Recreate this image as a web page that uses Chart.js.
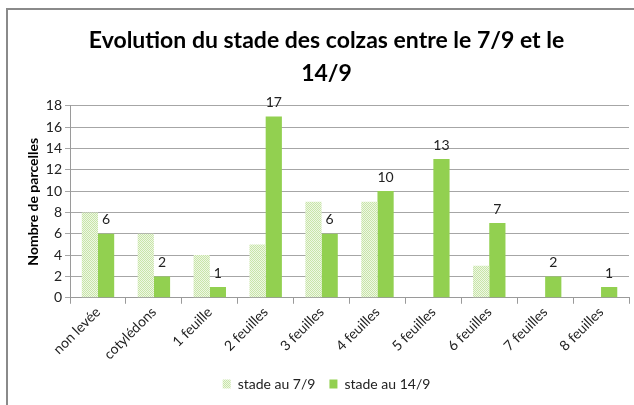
<!DOCTYPE html>
<html>
<head>
<meta charset="utf-8">
<script src="https://cdn.jsdelivr.net/npm/chart.js@4/dist/chart.umd.min.js"></script>
<style>
  html, body { margin: 0; padding: 0; background: #fff; }
  #wrap { position: relative; width: 634px; height: 405px; }
  #frame { position: absolute; left: 6px; top: 8px; right: -4px; bottom: -4px;
           border-left: 2px solid #8a8a8a; border-top: 2px solid #8a8a8a; }
  canvas { position: absolute; left: 0; top: 0; }
</style>
</head>
<body>
<div id="wrap">
  <div id="frame"></div>
  <canvas id="chart" width="634" height="405"></canvas>
</div>
<script>
const categories = ["non levée", "cotylédons", "1 feuille", "2 feuilles", "3 feuilles",
                    "4 feuilles", "5 feuilles", "6 feuilles", "7 feuilles", "8 feuilles"];
const stade79 = [8, 6, 4, 5, 9, 9, 0, 3, 0, 0];
const stade149 = [6, 2, 1, 17, 6, 10, 13, 7, 2, 1];
const yTicks = [0, 2, 4, 6, 8, 10, 12, 14, 16, 18];

// dotted light green fill like the excel pattern
const makePattern = () => {
    const p = document.createElement("canvas");
    p.width = 2; p.height = 2;
    const c = p.getContext("2d");
    c.fillStyle = "#eef7e4";
    c.fillRect(0, 0, 2, 2);
    c.fillStyle = "#c8e5a8";
    c.fillRect(0, 0, 1, 1);
    c.fillRect(1, 1, 1, 1);
    return c.createPattern(p, "repeat");
};
const ctx = document.getElementById("chart").getContext("2d");
const lightFill = makePattern();
const txt = "Lato, 'Open Sans', sans-serif";

// values above the 14/9 bars
const valueLabels = {
    id: "valueLabels",
    afterDatasetsDraw(chart) {
        const c = chart.ctx;
        const meta = chart.getDatasetMeta(1);
        c.save();
        c.font = "14px " + txt;
        c.fillStyle = "#222";
        c.textAlign = "center";
        c.textBaseline = "middle";
        meta.data.forEach((bar, i) => {
            c.fillText(String(stade149[i]), bar.x, bar.y - 14);
        });
        c.restore();
    }
};

new Chart(ctx, {
    type: "bar",
    data: {
        labels: categories,
        datasets: [
            { label: "stade au 7/9", data: stade79, backgroundColor: lightFill,
              borderWidth: 0, barPercentage: 1, categoryPercentage: 0.58 },
            { label: "stade au 14/9", data: stade149, backgroundColor: "#92d050",
              borderWidth: 0, barPercentage: 1, categoryPercentage: 0.58 }
        ]
    },
    options: {
        responsive: false,
        animation: false,
        layout: { padding: { left: 24, right: 5, top: 0, bottom: 4 } },
        plugins: {
            title: {
                display: true,
                text: ["Evolution du stade des colzas entre le 7/9 et le", "14/9"],
                font: { family: txt, size: 23, weight: "bold", lineHeight: 1.43 },
                color: "#000",
                padding: { top: 24, bottom: 16 }
            },
            legend: {
                position: "bottom",
                labels: {
                    font: { family: txt, size: 14 },
                    color: "#222",
                    boxWidth: 8, boxHeight: 9,
                    padding: 14
                }
            },
            tooltip: { enabled: false }
        },
        scales: {
            x: {
                grid: { display: true, drawOnChartArea: false, tickLength: 6, color: "#9a9a9a" },
                border: { color: "#9a9a9a" },
                ticks: {
                    font: { family: txt, size: 14 }, color: "#222",
                    maxRotation: 45, minRotation: 45, padding: 0
                }
            },
            y: {
                min: 0, max: 18,
                afterBuildTicks(axis) { axis.ticks = yTicks.map(v => ({ value: v })); },
                grid: { color: "#a6a6a6", tickLength: 5 },
                border: { color: "#9a9a9a" },
                ticks: { font: { family: txt, size: 14 }, color: "#222", padding: 3 },
                title: {
                    display: true, text: "Nombre de parcelles",
                    font: { family: txt, size: 14, weight: "bold" }, color: "#000", padding: 1
                }
            }
        }
    },
    plugins: [valueLabels]
});
</script>
</body>
</html>
